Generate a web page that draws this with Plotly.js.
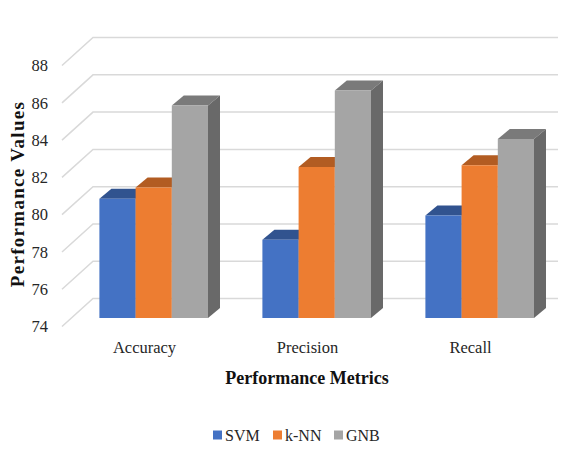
<!DOCTYPE html>
<html>
<head>
<meta charset="utf-8">
<script src="https://cdn.plot.ly/plotly-3.0.1.min.js"></script>
<style>
html,body{margin:0;padding:0;background:#fff}
#chart{width:582px;height:454px}
#chart .ytitle{letter-spacing:1.3px}
</style>
</head>
<body>
<div id="chart"></div>
<script>
// Metric scores per classifier
const categories = ["Accuracy", "Precision", "Recall"];
const seriesNames = ["SVM", "k-NN", "GNB"];
const svmValues = [80.4, 78.2, 79.5];
const knnValues = [81.0, 82.1, 82.2];
const gnbValues = [85.4, 86.2, 83.6];
const yTicks = [74, 76, 78, 80, 82, 84, 86, 88];

const seriesValues = [svmValues, knnValues, gnbValues];
const frontColors = ["#4472C4", "#ED7D31", "#A5A5A5"];
const topColors = ["#31538F", "#B25C22", "#7A7A7A"];
const sideColors = ["#2A4A80", "#9E5120", "#696969"];

// Page geometry of the pseudo-3D box
const W = 582, H = 454;
const M = {l: 56, r: 24, t: 20, b: 86};
const plotBottom = H - M.b;
const plotRight = W - M.r;
const unitPx = 18.64;        // pixels per score unit
const groupPx = 163;         // pixels per category
const firstLabelPx = 144.5;  // page x of the first category label
const tickPlane74 = 326.5;   // page y of score 74 at the tick labels
const barPlane74 = 318;      // page y of score 74 at the bars' front
const baseline = yTicks[0];

const xRange = [(M.l - firstLabelPx) / groupPx, (plotRight - firstLabelPx) / groupPx];
const yRangeFor = y74 => [baseline - (plotBottom - y74) / unitPx, baseline + (y74 - M.t) / unitPx];

const xUnits = px => px / groupPx;
const yUnits = px => px / unitPx;

// Bars sit a little to the right of their category label
const barShift = xUnits(153.7 - firstLabelPx);
const barWidth = xUnits(36.2);
const depthX = xUnits(12), depthY = yUnits(10);
const wall = {run: xUnits(31), rise: yUnits(28), front: (62 - firstLabelPx) / groupPx, end: (W - firstLabelPx) / groupPx};

const traces = [];

// Back wall and floor edge: slanted from the tick label, then straight across to the page edge
const wallX = [], wallY = [];
yTicks.forEach(t => {
  wallX.push(wall.front, wall.front + wall.run, wall.end, null);
  wallY.push(t, t + wall.rise, t + wall.rise, null);
});
traces.push({type: "scatter", mode: "lines", x: wallX, y: wallY, xaxis: "x", yaxis: "y", cliponaxis: false,
  line: {color: "#D9D9D9", width: 1.5}, hoverinfo: "skip", showlegend: false});

// Top and side faces of each bar, derived from its value
seriesValues.forEach((vals, s) => {
  vals.forEach((v, c) => {
    const left = c + barShift + (s - 1.5) * barWidth;
    const right = left + barWidth;
    traces.push({type: "scatter", mode: "lines", fill: "toself", fillcolor: topColors[s],
      x: [left, right, right + depthX, left + depthX, left],
      y: [v, v, v + depthY, v + depthY, v],
      xaxis: "x", yaxis: "y2", line: {width: 0, color: topColors[s]}, hoverinfo: "skip", showlegend: false});
    traces.push({type: "scatter", mode: "lines", fill: "toself", fillcolor: sideColors[s],
      x: [right, right + depthX, right + depthX, right, right],
      y: [baseline, baseline + depthY, v + depthY, v, baseline],
      xaxis: "x", yaxis: "y2", line: {width: 0, color: sideColors[s]}, hoverinfo: "skip", showlegend: false});
  });
});

// Front faces
seriesValues.forEach((vals, s) => {
  traces.push({type: "bar", name: seriesNames[s],
    x: categories.map((_, c) => c + barShift + (s - 1) * barWidth),
    y: vals.map(v => v - baseline), base: baseline, width: barWidth,
    xaxis: "x", yaxis: "y3", marker: {color: frontColors[s], line: {width: 0}},
    customdata: vals, hovertemplate: "%{customdata}<extra>" + seriesNames[s] + "</extra>", showlegend: false});
});

const serif = "Liberation Serif, Times New Roman, serif";
const barRange = yRangeFor(barPlane74);

// Legend row
const plotW = plotRight - M.l, plotH = plotBottom - M.t;
const legendSwatchX = [213, 273, 334];
const legendTextX = [223, 283, 344];
const legendY = 435;
const shapes = seriesNames.map((_, s) => ({
  type: "rect", xref: "paper", yref: "paper", line: {width: 0}, fillcolor: frontColors[s],
  x0: (legendSwatchX[s] - M.l) / plotW, x1: (legendSwatchX[s] + 9 - M.l) / plotW,
  y0: (plotBottom - legendY - 4.5) / plotH, y1: (plotBottom - legendY + 4.5) / plotH
}));
const annotations = seriesNames.map((n, s) => ({
  text: n, showarrow: false, xref: "paper", yref: "paper", xanchor: "left", yanchor: "middle",
  x: (legendTextX[s] - M.l) / plotW, y: (plotBottom - legendY) / plotH,
  font: {family: serif, size: 16, color: "#262626"}
}));

const layout = {
  width: W, height: H, margin: M, paper_bgcolor: "#fff", plot_bgcolor: "#fff",
  font: {family: serif, color: "#262626"}, showlegend: false, barmode: "overlay",
  xaxis: {type: "linear", range: xRange, tickmode: "array", tickvals: categories.map((_, c) => c),
    ticktext: categories, showgrid: false, zeroline: false, showline: false, ticks: "",
    ticklabelstandoff: -33,
    tickfont: {family: serif, size: 16.5, color: "#262626"},
    title: {text: "Performance Metrics", standoff: 15, font: {family: serif, size: 18, color: "#111", weight: 700}}},
  yaxis: {range: yRangeFor(tickPlane74), tickmode: "array", tickvals: yTicks, showgrid: false, zeroline: false,
    showline: false, ticks: "", ticklabelstandoff: 7, tickfont: {family: serif, size: 16.5, color: "#262626"},
    title: {text: "Performance Values", standoff: 1, font: {family: serif, size: 19, color: "#111", weight: 700}}},
  yaxis2: {range: barRange, overlaying: "y", visible: false},
  yaxis3: {range: barRange, overlaying: "y", visible: false},
  shapes, annotations
};

Plotly.newPlot("chart", traces, layout, {displayModeBar: false, responsive: false});
</script>
</body>
</html>
